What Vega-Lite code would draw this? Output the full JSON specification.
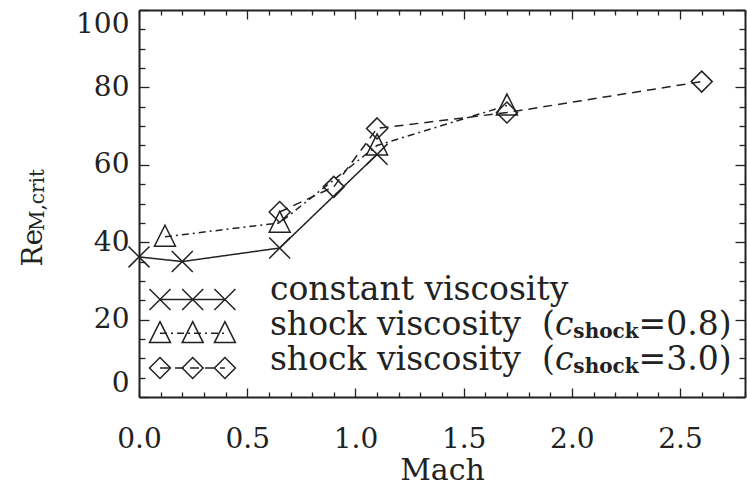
{
  "$schema": "https://vega.github.io/schema/vega-lite/v6.json",
  "width": 606,
  "height": 387,
  "autosize": "none",
  "padding": {"left": 139, "top": 10, "right": 2, "bottom": 88},
  "background": "white",
  "config": {"view": {"stroke": null}, "font": "DejaVu Serif", "axis": {"grid": false}},
  "datasets": {
    "series": [
      {"series": "constant", "Mach": 0.0, "Re": 36.2},
      {"series": "constant", "Mach": 0.2, "Re": 35.0},
      {"series": "constant", "Mach": 0.65, "Re": 38.5},
      {"series": "constant", "Mach": 1.1, "Re": 62.7},
      {"series": "shock08", "Mach": 0.12, "Re": 41.4},
      {"series": "shock08", "Mach": 0.65, "Re": 45.0},
      {"series": "shock08", "Mach": 1.1, "Re": 65.0},
      {"series": "shock08", "Mach": 1.7, "Re": 75.3},
      {"series": "shock30", "Mach": 0.65, "Re": 47.8},
      {"series": "shock30", "Mach": 0.9, "Re": 54.3},
      {"series": "shock30", "Mach": 1.1, "Re": 69.4},
      {"series": "shock30", "Mach": 1.7, "Re": 73.5},
      {"series": "shock30", "Mach": 2.6, "Re": 81.5}
    ],
    "legend": [
      {"series": "constant", "lx": 0.097, "ly": 25.2},
      {"series": "constant", "lx": 0.248, "ly": 25.2},
      {"series": "constant", "lx": 0.397, "ly": 25.2},
      {"series": "shock08", "lx": 0.097, "ly": 16.5},
      {"series": "shock08", "lx": 0.248, "ly": 16.5},
      {"series": "shock08", "lx": 0.397, "ly": 16.5},
      {"series": "shock30", "lx": 0.097, "ly": 7.5},
      {"series": "shock30", "lx": 0.248, "ly": 7.5},
      {"series": "shock30", "lx": 0.397, "ly": 7.5}
    ],
    "one": [{}]
  },
  "resolve": {"axis": {"x": "independent", "y": "independent"}},
  "layer": [
    {
      "data": {"name": "series"},
      "mark": {"type": "line", "color": "#222", "strokeWidth": 1.5},
      "encoding": {
        "x": {"field": "Mach", "type": "quantitative",
          "scale": {"domain": [0, 2.8], "nice": false, "zero": false},
          "axis": {
            "orient": "bottom",
            "values": [0,0.1,0.2,0.3,0.4,0.5,0.6,0.7,0.8,0.9,1.0,1.1,1.2,1.3,1.4,1.5,1.6,1.7,1.8,1.9,2.0,2.1,2.2,2.3,2.4,2.5,2.6,2.7,2.8],
            "labelExpr": "abs(datum.value*2 - round(datum.value*2)) < 0.001 ? format(datum.value, '.1f') : ''",
            "tickSize": {"condition": {"test": "abs(datum.value*2 - round(datum.value*2)) < 0.001", "value": -9}, "value": -5},
            "tickColor": "#222", "tickWidth": 1.3,
            "domainColor": "#222", "domainWidth": 2,
            "labelFont": "DejaVu Serif", "labelFontSize": 28, "labelColor": "#222",
            "labelFlush": false, "labelOverlap": false, "labelPadding": 37,
            "title": "Mach", "titleFont": "DejaVu Serif", "titleFontSize": 30, "titleFontWeight": "normal", "titleColor": "#222", "titlePadding": -2
          }
        },
        "y": {"field": "Re", "type": "quantitative",
          "scale": {"domain": [0, 100], "nice": false, "zero": false},
          "axis": {
            "orient": "left",
            "values": [0,5,10,15,20,25,30,35,40,45,50,55,60,65,70,75,80,85,90,95,100],
            "labelExpr": "datum.value % 20 == 0 ? datum.label : ''",
            "tickSize": {"condition": {"test": "datum.value % 20 == 0", "value": -10}, "value": -6},
            "tickColor": "#222", "tickWidth": 1.3,
            "domainColor": "#222", "domainWidth": 2,
            "labelFont": "DejaVu Serif", "labelFontSize": 28, "labelColor": "#222",
            "labelFlush": true, "labelOverlap": false, "labelPadding": 20,
            "title": null
          }
        },
        "strokeDash": {"field": "series", "type": "nominal",
          "scale": {"domain": ["constant", "shock08", "shock30"], "range": [[1, 0], [7, 4, 2, 4], [9, 6]]},
          "legend": null}
      }
    },
    {
      "data": {"name": "series"},
      "mark": {"type": "point", "filled": false, "color": "#222", "strokeWidth": 1.5, "opacity": 1, "size": 440},
      "encoding": {
        "x": {"field": "Mach", "type": "quantitative", "scale": {"domain": [0, 2.8], "nice": false, "zero": false}, "axis": null},
        "y": {"field": "Re", "type": "quantitative", "scale": {"domain": [0, 100], "nice": false, "zero": false}, "axis": null},
        "shape": {"field": "series", "type": "nominal",
          "scale": {"domain": ["constant", "shock08", "shock30"], "range": ["M-1,-1L1,1M-1,1L1,-1", "M0,-1.1L1,0.9L-1,0.9Z", "M0,-1L1,0L0,1L-1,0Z"]},
          "legend": null}
      }
    },
    {
      "data": {"name": "series"},
      "mark": {"type": "point", "opacity": 0},
      "encoding": {
        "x": {"field": "Mach", "type": "quantitative", "scale": {"domain": [0, 2.8], "nice": false, "zero": false},
          "axis": {
            "orient": "top",
            "values": [0,0.1,0.2,0.3,0.4,0.5,0.6,0.7,0.8,0.9,1.0,1.1,1.2,1.3,1.4,1.5,1.6,1.7,1.8,1.9,2.0,2.1,2.2,2.3,2.4,2.5,2.6,2.7,2.8],
            "labels": false,
            "tickSize": {"condition": {"test": "abs(datum.value*2 - round(datum.value*2)) < 0.001", "value": -9}, "value": -5},
            "tickColor": "#222", "tickWidth": 1.3, "domainColor": "#222", "domainWidth": 2, "title": null
          }
        },
        "y": {"field": "Re", "type": "quantitative", "scale": {"domain": [0, 100], "nice": false, "zero": false},
          "axis": {
            "orient": "right",
            "values": [0,5,10,15,20,25,30,35,40,45,50,55,60,65,70,75,80,85,90,95,100],
            "labels": false,
            "tickSize": {"condition": {"test": "datum.value % 20 == 0", "value": -10}, "value": -6},
            "tickColor": "#222", "tickWidth": 1.3, "domainColor": "#222", "domainWidth": 2, "title": null
          }
        }
      }
    },
    {
      "data": {"name": "legend"},
      "mark": {"type": "line", "color": "#222", "strokeWidth": 1.5},
      "encoding": {
        "x": {"field": "lx", "type": "quantitative", "scale": {"domain": [0, 2.8], "nice": false, "zero": false}, "axis": null},
        "y": {"field": "ly", "type": "quantitative", "scale": {"domain": [0, 100], "nice": false, "zero": false}, "axis": null},
        "strokeDash": {"field": "series", "type": "nominal",
          "scale": {"domain": ["constant", "shock08", "shock30"], "range": [[1, 0], [7, 4, 2, 4], [9, 6]]},
          "legend": null}
      }
    },
    {
      "data": {"name": "legend"},
      "mark": {"type": "point", "filled": false, "color": "#222", "strokeWidth": 1.5, "opacity": 1, "size": 440},
      "encoding": {
        "x": {"field": "lx", "type": "quantitative", "scale": {"domain": [0, 2.8], "nice": false, "zero": false}, "axis": null},
        "y": {"field": "ly", "type": "quantitative", "scale": {"domain": [0, 100], "nice": false, "zero": false}, "axis": null},
        "shape": {"field": "series", "type": "nominal",
          "scale": {"domain": ["constant", "shock08", "shock30"], "range": ["M-1,-1L1,1M-1,1L1,-1", "M0,-1.1L1,0.9L-1,0.9Z", "M0,-1L1,0L0,1L-1,0Z"]},
          "legend": null}
      }
    },
    {
      "data": {"name": "one"},
      "mark": {"type": "text", "text": "constant viscosity", "font": "DejaVu Serif", "fontSize": 33, "color": "#222", "align": "left", "baseline": "alphabetic"},
      "encoding": {
        "x": {"datum": 0.605, "type": "quantitative", "scale": {"domain": [0, 2.8], "nice": false, "zero": false}, "axis": null},
        "y": {"datum": 25.1, "type": "quantitative", "scale": {"domain": [0, 100], "nice": false, "zero": false}, "axis": null}
      }
    },
    {
      "data": {"name": "one"},
      "mark": {"type": "text", "text": "shock viscosity", "font": "DejaVu Serif", "fontSize": 33, "color": "#222", "align": "left", "baseline": "alphabetic"},
      "encoding": {
        "x": {"datum": 0.605, "type": "quantitative", "axis": null},
        "y": {"datum": 16.0, "type": "quantitative", "axis": null}
      }
    },
    {
      "data": {"name": "one"},
      "mark": {"type": "text", "text": "shock viscosity", "font": "DejaVu Serif", "fontSize": 33, "color": "#222", "align": "left", "baseline": "alphabetic"},
      "encoding": {
        "x": {"datum": 0.605, "type": "quantitative", "axis": null},
        "y": {"datum": 7.0, "type": "quantitative", "axis": null}
      }
    },
    {
      "data": {"name": "one"},
      "mark": {"type": "text", "text": "(", "font": "DejaVu Serif", "fontSize": 33, "color": "#222", "align": "left", "baseline": "alphabetic"},
      "encoding": {
        "x": {"datum": 1.862, "type": "quantitative", "axis": null},
        "y": {"datum": 16.0, "type": "quantitative", "axis": null}
      }
    },
    {
      "data": {"name": "one"},
      "mark": {"type": "text", "text": "(", "font": "DejaVu Serif", "fontSize": 33, "color": "#222", "align": "left", "baseline": "alphabetic"},
      "encoding": {
        "x": {"datum": 1.862, "type": "quantitative", "axis": null},
        "y": {"datum": 7.0, "type": "quantitative", "axis": null}
      }
    },
    {
      "data": {"name": "one"},
      "mark": {"type": "text", "text": "c", "font": "DejaVu Serif", "fontSize": 33, "fontStyle": "italic", "color": "#222", "align": "left", "baseline": "alphabetic"},
      "encoding": {
        "x": {"datum": 1.922, "type": "quantitative", "axis": null},
        "y": {"datum": 16.0, "type": "quantitative", "axis": null}
      }
    },
    {
      "data": {"name": "one"},
      "mark": {"type": "text", "text": "c", "font": "DejaVu Serif", "fontSize": 33, "fontStyle": "italic", "color": "#222", "align": "left", "baseline": "alphabetic"},
      "encoding": {
        "x": {"datum": 1.922, "type": "quantitative", "axis": null},
        "y": {"datum": 7.0, "type": "quantitative", "axis": null}
      }
    },
    {
      "data": {"name": "one"},
      "mark": {"type": "text", "text": "shock", "font": "DejaVu Serif", "fontSize": 20, "fontWeight": "bold", "color": "#222", "align": "left", "baseline": "alphabetic"},
      "encoding": {
        "x": {"datum": 2.007, "type": "quantitative", "axis": null},
        "y": {"datum": 15.2, "type": "quantitative", "axis": null}
      }
    },
    {
      "data": {"name": "one"},
      "mark": {"type": "text", "text": "shock", "font": "DejaVu Serif", "fontSize": 20, "fontWeight": "bold", "color": "#222", "align": "left", "baseline": "alphabetic"},
      "encoding": {
        "x": {"datum": 2.007, "type": "quantitative", "axis": null},
        "y": {"datum": 6.2, "type": "quantitative", "axis": null}
      }
    },
    {
      "data": {"name": "one"},
      "mark": {"type": "text", "text": "=0.8)", "font": "DejaVu Serif", "fontSize": 33, "color": "#222", "align": "left", "baseline": "alphabetic"},
      "encoding": {
        "x": {"datum": 2.308, "type": "quantitative", "axis": null},
        "y": {"datum": 16.0, "type": "quantitative", "axis": null}
      }
    },
    {
      "data": {"name": "one"},
      "mark": {"type": "text", "text": "=3.0)", "font": "DejaVu Serif", "fontSize": 33, "color": "#222", "align": "left", "baseline": "alphabetic"},
      "encoding": {
        "x": {"datum": 2.308, "type": "quantitative", "axis": null},
        "y": {"datum": 7.0, "type": "quantitative", "axis": null}
      }
    },
    {
      "data": {"name": "one"},
      "mark": {"type": "text", "text": "Re", "font": "DejaVu Serif", "fontSize": 28, "color": "#222", "align": "left", "baseline": "alphabetic", "angle": 270},
      "encoding": {
        "x": {"datum": -0.45, "type": "quantitative", "axis": null},
        "y": {"datum": 33.7, "type": "quantitative", "axis": null}
      }
    },
    {
      "data": {"name": "one"},
      "mark": {"type": "text", "text": "M,crit", "font": "DejaVu Serif", "fontSize": 20, "color": "#222", "align": "left", "baseline": "alphabetic", "angle": 270},
      "encoding": {
        "x": {"datum": -0.439, "type": "quantitative", "axis": null},
        "y": {"datum": 42.9, "type": "quantitative", "axis": null}
      }
    }
  ]
}
